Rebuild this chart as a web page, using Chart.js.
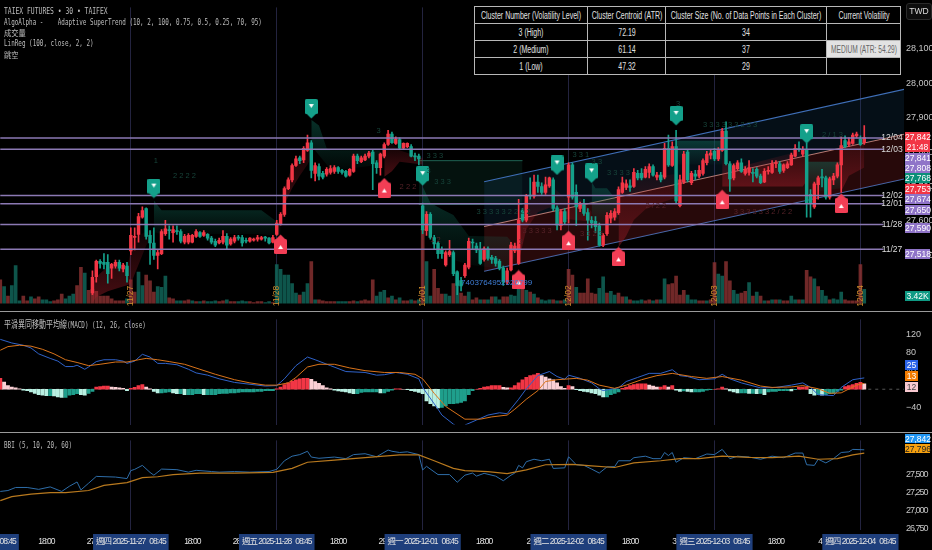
<!DOCTYPE html>
<html><head><meta charset="utf-8">
<script src="https://cdn.jsdelivr.net/npm/chart.js@4"></script>
<style>
html,body{margin:0;padding:0;background:#000;width:932px;height:550px;overflow:hidden}
canvas{position:absolute;left:0;display:block}
.t{position:absolute;white-space:pre;color:#bdbdbd;font:8.5px/11px "DejaVu Sans Mono","Noto Sans CJK TC",monospace;transform-origin:left center}
.cjk{font:8.5px/11px "Noto Sans CJK TC"}
.sep{position:absolute;left:0;width:932px;height:1px;background:#9a9a9a}
.tag{position:absolute;left:905px;width:25px;text-align:center;font:8.5px/10px "Liberation Sans";color:#fff}
#tbl{position:absolute;left:474px;top:6px;width:426px;height:68px;border-collapse:collapse;table-layout:fixed;background:#000}
#tbl td{position:relative;border:1px solid #b8b8b8;padding:0;height:16px}
#tbl span{position:absolute;left:50%;top:50%;transform:translate(-50%,-50%) scaleX(.7);white-space:nowrap;color:#e0e0e0;font:10px "Liberation Sans"}
#tbl td.hl{background:#e2e2e2}
#tbl td.hl span{color:#666;transform:translate(-50%,-50%) scaleX(.66)}
#twd{position:absolute;left:906px;top:3px;width:24px;height:15px;border:1px solid #2a2a2a;border-radius:3px;background:#0d0d0d;color:#ddd;font:8.5px/15px "Liberation Sans";text-align:center}
</style></head><body>
<canvas id="cPrice" style="top:0" width="932" height="311"></canvas>
<canvas id="cMacd" style="top:312px" width="932" height="120"></canvas>
<canvas id="cBbi" style="top:433px" width="932" height="117"></canvas>
<div class="sep" style="top:311px"></div>
<div class="sep" style="top:432px"></div>

<div class="t" style="left:4px;top:6px;transform:scaleX(.75)">TAIEX FUTURES • 30 • TAIFEX</div>
<div class="t" style="left:4px;top:17px;transform:scaleX(.7)">AlgoAlpha -    Adaptive SuperTrend (10, 2, 100, 0.75, 0.5, 0.25, 70, 95)</div>
<div class="t cjk" style="left:4px;top:27px;transform:scaleX(.85)">成交量</div>
<div class="t" style="left:4px;top:38px;transform:scaleX(.7)">LinReg (100, close, 2, 2)</div>
<div class="t cjk" style="left:4px;top:49px;transform:scaleX(.85)">跳空</div>
<div class="t" style="left:4px;top:318px;transform:scaleX(.7)"><span style="font-size:10px;font-family:'Noto Sans CJK TC'">平滑異同移動平均線</span>(MACD) (12, 26, close)</div>
<div class="t" style="left:4px;top:440px;transform:scaleX(.7)">BBI (5, 10, 20, 60)</div>

<table id="tbl"><colgroup><col style="width:113px"><col style="width:78px"><col style="width:161px"><col style="width:74px"></colgroup>
<tr><td><span>Cluster Number (Volatility Level)</span></td><td><span>Cluster Centroid (ATR)</span></td><td><span>Cluster Size (No. of Data Points in Each Cluster)</span></td><td><span>Current Volatility</span></td></tr>
<tr><td><span>3 (High)</span></td><td><span>72.19</span></td><td><span>34</span></td><td></td></tr>
<tr><td><span>2 (Medium)</span></td><td><span>61.14</span></td><td><span>37</span></td><td class="hl"><span>MEDIUM (ATR: 54.29)</span></td></tr>
<tr><td><span>1 (Low)</span></td><td><span>47.32</span></td><td><span>29</span></td><td></td></tr>
</table>
<div id="twd">TWD</div>
<div id="tags"></div>

<script>
// ---------- price pane data ----------
const firstCandle = 24;
const openPrices = [27391,27438,27483,27480,27480,27463,27469,27480,27461,27469,27513,27552,27561,27611,27636,27558,27536,27500,27505,27563,27575,27566,27572,27569,27538,27538,27538,27555,27566,27558,27561,27550,27541,27536,27538,27555,27533,27541,27552,27552,27544,27541,27544,27547,27547,27552,27550,27538,
27561,27591,27619,27694,27719,27761,27783,27777,27805,27827,27738,27758,27738,27736,27741,27744,27755,27747,27744,27733,27744,27788,27772,27777,27788,27800,27769,27755,27788,27822,27852,27825,27836,27811,27816,27816,27788,27788,
27644,27572,27619,27552,27536,27516,27472,27502,27508,27450,27427,27441,27466,27538,27527,27516,27488,27519,27494,27491,27483,27463,27422,27458,27513,27477,27630,27602,27675,27672,27713,27700,27683,27702,27719,27638,27586,27627,
27669,27763,27683,27636,27647,27624,27602,27599,27586,27530,27563,27608,27611,27624,27683,27697,27702,27700,27738,27738,27727,27741,27758,27727,27733,27727,27811,27761,27816,27644,27713,27800,27711,27736,27730,27738,27769,27791,
27802,27780,27805,27861,27766,27725,27752,27769,27738,27741,27741,27750,27730,27713,27744,27741,27766,27766,27747,27755,27763,27788,27811,27794,27808,27677,27641,27705,27727,27725,27669,27719,27730,27763,27833,27822,27825,27847,27838,27827];
const closePrices = [27436,27483,27477,27474,27447,27474,27480,27463,27472,27441,27558,27555,27613,27630,27555,27536,27500,27508,27569,27577,27572,27575,27569,27541,27555,27558,27558,27569,27555,27566,27550,27538,27530,27544,27555,27530,27547,27552,27550,27536,27541,27550,27547,27552,27552,27550,27536,27552,
27594,27619,27694,27719,27761,27780,27775,27811,27827,27747,27761,27730,27727,27750,27752,27755,27744,27741,27730,27750,27788,27775,27783,27788,27797,27766,27755,27794,27822,27852,27827,27838,27811,27825,27825,27788,27786,27780,
27574,27619,27552,27533,27505,27505,27508,27511,27447,27413,27411,27472,27541,27536,27516,27477,27519,27491,27488,27477,27463,27422,27455,27530,27527,27602,27602,27672,27672,27713,27700,27683,27705,27725,27636,27588,27627,27597,
27763,27669,27641,27650,27622,27602,27594,27583,27530,27558,27616,27622,27627,27691,27711,27708,27697,27741,27725,27725,27750,27758,27733,27733,27719,27811,27763,27816,27658,27719,27794,27719,27738,27730,27747,27775,27794,27797,
27780,27805,27861,27766,27722,27761,27769,27744,27750,27755,27738,27730,27711,27744,27747,27766,27769,27744,27763,27766,27791,27811,27808,27808,27652,27650,27708,27725,27725,27669,27722,27730,27763,27819,27816,27830,27849,27852,27822,27842];
const highPrices = [27455,27486,27488,27505,27502,27477,27486,27486,27477,27480,27580,27580,27622,27641,27638,27572,27580,27516,27575,27602,27586,27586,27586,27575,27561,27563,27561,27575,27569,27572,27563,27555,27547,27550,27572,27563,27552,27558,27558,27558,27550,27552,27550,27558,27555,27555,27552,27558,
27602,27624,27699,27725,27766,27788,27788,27816,27849,27833,27769,27766,27744,27755,27761,27761,27758,27750,27747,27752,27794,27794,27788,27794,27802,27805,27775,27797,27827,27863,27858,27844,27841,27827,27827,27822,27797,27794,
27652,27627,27624,27558,27541,27525,27513,27544,27513,27455,27436,27477,27550,27547,27536,27538,27525,27525,27500,27497,27488,27469,27463,27538,27536,27663,27636,27677,27725,27733,27733,27711,27727,27727,27725,27644,27633,27636,
27769,27769,27705,27655,27663,27636,27613,27613,27594,27563,27624,27630,27636,27699,27727,27719,27719,27752,27747,27752,27758,27766,27763,27741,27741,27825,27849,27830,27863,27733,27802,27805,27744,27747,27761,27780,27802,27808,
27811,27813,27869,27888,27772,27766,27775,27780,27758,27775,27752,27755,27736,27752,27758,27775,27775,27772,27766,27772,27797,27822,27830,27816,27825,27691,27713,27730,27750,27730,27727,27738,27769,27844,27847,27841,27855,27858,27847,27877];
const lowPrices = [27386,27422,27463,27461,27419,27433,27463,27455,27452,27422,27502,27516,27538,27608,27547,27474,27488,27461,27502,27558,27547,27538,27561,27536,27533,27533,27536,27552,27552,27555,27544,27533,27525,27533,27533,27519,27530,27536,27544,27527,27536,27538,27541,27541,27544,27541,27533,27536,
27558,27588,27613,27691,27713,27758,27766,27769,27802,27725,27716,27719,27722,27730,27736,27738,27738,27736,27727,27730,27741,27766,27769,27775,27783,27691,27738,27733,27783,27819,27825,27822,27808,27808,27813,27786,27775,27763,
27563,27558,27547,27519,27491,27491,27469,27497,27441,27386,27397,27436,27461,27519,27508,27474,27483,27486,27477,27469,27458,27413,27416,27455,27508,27474,27597,27597,27663,27666,27683,27677,27677,27697,27630,27574,27574,27591,
27594,27663,27586,27627,27616,27544,27580,27566,27527,27525,27558,27594,27602,27619,27680,27691,27686,27697,27719,27719,27725,27725,27730,27719,27713,27722,27758,27758,27650,27641,27708,27713,27705,27719,27725,27733,27763,27780,
27775,27775,27802,27763,27686,27719,27747,27741,27733,27733,27713,27725,27708,27711,27736,27738,27755,27738,27741,27752,27761,27786,27802,27788,27611,27611,27636,27663,27699,27663,27663,27705,27725,27683,27813,27816,27822,27841,27819,27822];
const volumes = [5.7,4.1,1.82,4.33,9.12,.68,1.82,.68,1.6,1.14,1.6,.91,.91,.46,.68,.91,2.28,1.14,1.82,2.28,4.33,8.66,7.3,3.19,3.42,2.96,1.82,1.82,1.82,1.14,.68,.68,.68,1.14,5.7,2.74,7.52,4.33,6.84,5.47,2.74,4.1,3.88,6.61,1.37,1.14,.68,.68,.68,.91,.68,.46,.46,.68,.46,.46,.68,.46,.68,.91,.46,.46,.46,.68,.46,.46,.23,.46,.46,.23,.46,.23,
9.35,8.21,6.84,6.84,4.79,2.51,2.05,2.74,4.79,10.03,.91,.91,.68,.46,.46,.46,.46,.46,.46,.46,.68,.46,.68,.91,.68,5.7,1.82,2.74,3.19,1.37,1.82,.91,1.37,.68,.68,.91,.68,.91,
17.78,10.03,1.82,8.21,3.65,2.28,2.28,1.82,4.79,7.75,2.51,1.82,2.74,.91,1.37,.91,.91,.91,1.6,1.6,.91,1.6,1.6,2.05,1.82,5.93,6.16,3.19,2.74,2.28,1.37,.91,.68,.91,.91,.68,.68,.91,
8.21,6.84,3.88,2.51,2.51,5.93,2.51,2.28,3.65,6.38,2.51,2.96,2.05,2.51,1.6,1.6,.91,.68,.68,.91,.68,.91,.68,.91,.91,5.93,4.56,4.79,6.61,2.05,3.19,2.05,.91,.91,.68,.68,.68,.91,
9.8,7.07,6.61,10.03,5.47,3.19,2.28,2.51,2.96,5.02,1.82,2.74,1.82,.68,.68,.91,.91,.91,.68,.68,1.82,.91,.91,.91,7.98,6.38,5.93,4.1,3.19,1.82,.91,1.14,.91,2.74,.91,.68,.68,.68,9.35,3.42];
const volumeRed = [1,0,1,0,0,0,1,1,0,1,1,0,0,0,1,1,1,0,0,0,1,1,0,1,1,1,1,1,1,1,1,1,1,0,1,1,0,0,1,1,1,0,0,0,1,1,0,0,1,1,0,1,0,1,0,0,0,1,1,0,1,1,0,0,0,1,1,1,1,0,0,1,
0,0,0,0,0,0,1,0,0,1,0,1,1,1,1,1,0,0,0,1,1,0,1,1,1,1,0,0,0,1,0,1,0,1,1,0,1,0,
1,0,0,1,1,1,0,0,1,0,1,1,0,1,1,0,1,0,1,0,0,1,1,0,0,0,1,0,1,0,1,0,0,0,1,0,1,0,
1,1,0,1,1,1,1,1,0,0,1,0,0,1,1,0,1,0,0,0,1,1,0,1,0,0,1,1,1,1,1,0,0,0,1,1,0,1,
1,0,0,1,1,0,0,1,1,0,1,0,1,0,1,0,1,0,1,1,0,0,1,0,1,1,0,1,0,0,1,0,0,0,1,1,1,1,1,0];
const upperChannel = [27714,27982];
const middleChannel = [27584,27852];
const lowerChannel = [27454,27722];
const channelX = [126,235.4];
const levelPrices = [27841,27808,27674,27650,27590,27518];
const levelNames = ['12/04','12/03','12/02','12/01','11/28','11/27'];
const levelX = [0,230];
const sellSignalX = [40,81,110,145,154,176,210];
const sellSignalY = [27694,27925,27730,27761,27738,27905,27852];
const buySignalX = [73,100,135,148,161,188,219];
const buySignalY = [27533,27697,27430,27544,27497,27663,27652];
const gapBoxX = [109,136];
const gapBoxTop = [27775,27775];
const gapBoxBottom = [27648,27648];

const redA = {x:[24,25,28,33,34,36,38,40], top:[27418,27437,27468,27460,27515,27556,27570,27570], bottom:[27363,27379,27396,27413,27418,27473,27529,27562]};
const greenA = {x:[40,42,68,71,73], top:[27659,27631,27631,27606,27590], bottom:[27567,27562,27562,27556,27556]};
const redB = {x:[73,74,76,78,80,81], top:[27598,27695,27758,27783,27819,27833], bottom:[27590,27648,27695,27731,27764,27786]};
const greenB = {x:[81,83,85,86,99], top:[27894,27877,27811,27805,27805], bottom:[27819,27791,27764,27744,27764]};
const redC = {x:[100,102,104,110], top:[27819,27825,27805,27783], bottom:[27728,27744,27772,27764]};
const greenC = {x:[110,112,115,118,122,132,134], top:[27700,27653,27634,27617,27556,27554,27529], bottom:[27625,27570,27529,27487,27473,27460,27495]};
const redD = {x:[135,137,140,143,147,150,154], top:[27606,27667,27708,27708,27667,27681,27626], bottom:[27482,27576,27625,27639,27606,27603,27598]};
const greenD = {x:[154,155,158,161], top:[27714,27695,27695,27653], bottom:[27626,27584,27598,27606]};
const redE = {x:[161,163,165,168,172,176], top:[27695,27708,27736,27744,27731,27736], bottom:[27523,27556,27603,27634,27653,27667]};
const greenE = {x:[176,188], top:[27833,27833], bottom:[27764,27764]};
const redF = {x:[188,190,209,210], top:[27805,27750,27805,27764], bottom:[27700,27700,27700,27717]};
const greenF = {x:[210,219], top:[27772,27772], bottom:[27681,27695]};
const redG = {x:[219,221,225], top:[27819,27827,27833], bottom:[27686,27731,27755]};
const redBands = [redA,redB,redC,redD,redE,redF,redG];
const greenBands = [greenA,greenB,greenC,greenD,greenE,greenF];

const dimCounts = [
 ['1',40,27775,'g'],['2 2 2 2',45,27730,'g'],['3',98,27860,'g'],['3 3 3',111,27790,'g'],['3',111,27745,'g'],['3 3 3',113,27712,'g'],
 ['3 3 3 3 3 2 2 2 2',124,27625,'g'],['3 3 1',149,27793,'g'],['3 3',154,27770,'g'],['3 3 3 3',158,27740,'g'],['3',176,27940,'g'],
 ['3 3 3 3 3 3 2 3 3',183,27880,'g'],['2 / 1 3',214,27850,'g'],['3 3 3 3 3',136,27570,'r'],['3 3 2 3',151,27562,'r'],
 ['2 / 2 2',168,27645,'r'],['3 3 3 3 3 3 2 / 2 2',191,27625,'r'],['1 2',112,27545,'r'],['2 2 2',104,27700,'r'],['3',135,27540,'r']];
const rotatedDates = ['11/27','11/28','12/01','12/02','12/03','12/04'];
const sessionStarts = [34,72,110,148,186,224];
const orderNoteText = '7403764952520799';
const orderNoteX = 120;
const orderNoteY = 27420;

// ---------- MACD pane data ----------
const macdHist = [24,16,8,5,3,1,-2,-3,-6,-9,-12,-13,-14,-14,-15,-17,-18,-18,-13,-12,-10,-12,-13,-9,-5,5,6,7,7,5,4,3,2,-3,2,4,8,10,5,1,-5,-8,-8,-7,-6,-8,-10,-10,-12,-12,-12,-10,-10,-12,-12,-12,-12,-10,-9,-9,-8,-8,-7,-6,-6,-6,-6,-5,-5,-3,-3,-3,
1,5,10,14,18,21,23,24,24,22,17,13,8,3,1,-2,-4,-5,-6,-8,-10,-10,-7,-6,-6,-6,-6,-8,-8,-5,-2,1,1,0,-1,-3,-5,-7,
-10,-26,-32,-37,-41,-40,-37,-32,-32,-31,-29,-26,-12,-3,0,2,5,6,8,8,8,4,3,3,8,14,21,26,30,32,35,30,27,23,21,14,6,2,
8,6,-1,-3,-5,-6,-8,-10,-13,-17,-17,-12,-9,-6,2,5,8,10,12,12,12,9,7,5,5,8,5,8,-2,-5,-4,-5,-6,-6,-6,-5,-2,-1,
0,1,5,1,-4,-6,-8,-8,-8,-9,-9,-10,-9,-12,-6,-5,-5,-3,-3,-3,-4,-1,4,5,5,-10,-13,-12,-13,-12,-10,-9,-5,-2,6,8,10,13,15,12];
const macdX = [0,3,6,8,10,13,15,17,19,20,22,23,25,27,30,32,33,35,37,39,41,43,46,49,51,54,57,61,64,69,72,74,77,80,82,86,90,95,98,100,103,106,109,110,114,115,118,120,121,124,127,130,132,133,135,137,140,143,145,147,148,151,154,156,157,161,163,166,169,172,175,177,179,182,186,188,190,193,198,202,206,209,211,213,217,219,222,225];
const macdLine = [110,102,97,91,78,68,62,50,50,53,44,49,61,65,65,62,57,62,77,71,57,57,54,44,36,31,23,15,12,7,8,23,52,71,65,52,39,37,31,32,37,33,23,4,-44,-57,-77,-88,-79,-68,-57,-52,-54,-43,-22,1,30,39,28,22,31,24,14,1,-3,3,17,26,35,35,43,30,28,21,23,33,23,14,3,4,9,14,4,-12,-14,4,21,25];
const signalX = [0,2,5,8,11,14,17,20,23,26,30,33,36,38,41,44,48,52,56,61,65,69,72,75,77,80,83,87,91,95,100,104,108,110,113,116,121,125,128,132,134,137,140,142,145,150,153,156,160,163,167,171,175,180,184,188,193,198,201,206,209,213,216,219,223,225];
const signalLine = [86,94,97,95,88,78,65,59,52,55,60,60,65,68,65,61,55,44,33,21,14,9,9,14,26,49,55,55,47,41,37,37,33,23,-9,-38,-66,-66,-61,-57,-44,-22,-3,17,21,24,20,9,2,9,21,30,35,28,24,28,20,7,4,5,8,1,-9,-8,9,13];
const zeroLineX = [0,235.4];
const zeroLine = [0,0];

// ---------- BBI pane data ----------
const bbiX = [0,2,4,7,10,13,16,18,20,21,23,25,30,33,34,35,37,39,40,42,46,49,51,55,57,61,65,70,72,74,76,78,80,81,83,87,90,92,95,98,101,102,104,106,109,110,111,114,117,119,121,123,124,126,129,131,133,134,135,136,137,139,141,143,144,147,148,150,152,154,156,158,160,161,164,165,168,170,172,173,174,175,176,178,181,184,186,188,190,192,195,198,201,204,207,209,210,212,213,215,217,219,221,222,225];
const bbiLine = [27267,27280,27322,27322,27296,27330,27267,27339,27398,27288,27381,27475,27466,27445,27555,27572,27627,27530,27492,27576,27568,27534,27559,27542,27534,27542,27534,27542,27572,27691,27754,27776,27822,27742,27725,27742,27720,27776,27788,27746,27839,27822,27805,27814,27776,27564,27614,27500,27500,27394,27492,27521,27479,27517,27479,27415,27492,27521,27627,27593,27678,27712,27691,27712,27585,27593,27746,27636,27627,27576,27521,27606,27610,27691,27691,27733,27754,27720,27720,27805,27763,27805,27670,27733,27720,27784,27776,27848,27720,27754,27742,27712,27754,27733,27797,27797,27636,27627,27712,27661,27720,27805,27814,27848,27842];
const bbiSlowX = [0,3,8,13,17,23,27,33,37,41,45,52,61,71,76,80,87,95,104,109,113,118,121,127,132,137,142,149,154,160,165,172,177,182,188,195,201,208,213,218,222,225];
const bbiSlow = [27140,27195,27229,27250,27250,27280,27352,27390,27458,27470,27500,27521,27521,27530,27585,27670,27699,27733,27771,27771,27691,27585,27555,27542,27513,27564,27636,27640,27619,27598,27661,27691,27720,27720,27754,27737,27733,27754,27712,27720,27771,27796];

// ---------- axes ----------
const priceTicks = [27500,27600,27700,27800,27900,28000,28100];
const macdTicks = [-40,0,40,80,120];
const bbiTicks = [26750,27000,27250,27500];
const timeTicks = [-5,12,34,50,72,88,110,126,148,164,186,202,224];
const timeLabels = ['週三 2025-11-26   08:45','18:00','週四 2025-11-27   08:45','18:00','週五 2025-11-28   08:45','18:00','週一 2025-12-01   08:45','18:00','週二 2025-12-02   08:45','18:00','週三 2025-12-03   08:45','18:00','週四 2025-12-04   08:45'];
const midnightTicks = [23.5,61.5,99.5,137.5,175.5,213.5];
const midnightLabels = ['27','28','29','2','3','4'];

const priceTags = [
 ['27,842','#f23645',132],['21:48','#f23645',142],['27,841','#8f74c8',153],['27,808','#8f74c8',163],['27,768','#0a8f78',173],['27,753','#f23645',184],['27,674','#8f74c8',194],['27,650','#8f74c8',205],['27,590','#8f74c8',223],['27,518','#8f74c8',249],['3.42K','#0f9a84',291]];
const macdTags = [['25','#2a62e8',360],['13','#f57c00',371],['12','#f8c9d0',382]];
const bbiTags = [['27,842','#2196f3',434],['27,796','#f5a00f',444]];

// ---------- colours ----------
const RED='#f23645', GREEN='#14a08a', AXIS='#c6c6c6', DAYLINE='#23233f';
const X_MIN=-0.07, X_MAX=235.35;
Chart.defaults.font.family='"Liberation Sans","Noto Sans CJK TC",sans-serif';
Chart.defaults.font.size=9;
Chart.defaults.color=AXIS;

const pts=(xs,ys)=>xs.map((x,k)=>({x,y:ys[k]}));
const line=(data,color,width,extra)=>Object.assign({type:'line',data,borderColor:color,borderWidth:width,pointRadius:0,tension:0,fill:false,order:30},extra||{});
const baseOpts=(yScales,xExtra)=>({
  responsive:false,animation:false,devicePixelRatio:1,
  layout:{padding:0,autoPadding:false},
  plugins:{legend:{display:false},tooltip:{enabled:false},title:{display:false}},
  events:[],
  scales:Object.assign({
    x:Object.assign({type:'linear',min:X_MIN,max:X_MAX,offset:false,display:true,
      grid:{offset:false,drawTicks:false,color:DAYLINE,lineWidth:1},border:{display:false},
      ticks:{display:false},afterBuildTicks:s=>{s.ticks=sessionStarts.map(v=>({value:v}));},
      afterFit:s=>{s.height=0;}},xExtra||{})
  },yScales)
});
const yAxis=(min,max,ticks,pos)=>({type:'linear',position:'right',min,max,
  grid:{display:false,drawTicks:false},border:{display:false},
  ticks:{color:AXIS,padding:2,autoSkip:false,callback:v=>Number(v).toLocaleString('en-US').replace('-','\u2212')},
  afterBuildTicks:s=>{s.ticks=ticks.map(v=>({value:v}));},
  afterFit:s=>{s.width=28;}});

// marker images
function marker(color,down){
  const c=document.createElement('canvas');c.width=13;c.height=20;const g=c.getContext('2d');
  g.fillStyle=color;g.beginPath();
  if(down){g.roundRect(0,0,13,15,1.5);g.fill();g.beginPath();g.moveTo(2,15);g.lineTo(6.5,19.5);g.lineTo(11,15);g.fill();
    g.fillStyle='#fff';g.beginPath();g.moveTo(4,5);g.lineTo(9,5);g.lineTo(6.5,9);g.fill();}
  else{g.roundRect(0,5,13,15,1.5);g.fill();g.beginPath();g.moveTo(2,5);g.lineTo(6.5,.5);g.lineTo(11,5);g.fill();
    g.fillStyle='#fff';g.beginPath();g.moveTo(4,15);g.lineTo(9,15);g.lineTo(6.5,11);g.fill();}
  return c;
}
function bandFill(band,isRed){
  return ctx=>{
    const s=ctx.chart.scales.price; if(!s) return 'transparent';
    const y0=s.getPixelForValue(Math.max(...band.top)), y1=s.getPixelForValue(Math.min(...band.bottom));
    if(!isFinite(y0)||!isFinite(y1)) return 'transparent';
    const g=ctx.chart.ctx.createLinearGradient(0,y0,0,y1);
    if(isRed){g.addColorStop(0,'rgba(165,30,42,.08)');g.addColorStop(1,'rgba(165,30,42,.45)');}
    else{g.addColorStop(0,'rgba(18,115,96,.42)');g.addColorStop(1,'rgba(18,115,96,.05)');}
    return g;
  };
}
const bandSets=[];
function addBand(b,isRed){
  bandSets.push(line(pts(b.x,b.top),'transparent',0,{fill:'+1',backgroundColor:bandFill(b,isRed),order:60}));
  bandSets.push(line(pts(b.x,b.bottom),'transparent',0,{order:60}));
}
redBands.forEach(b=>addBand(b,true));
greenBands.forEach(b=>addBand(b,false));

const candleX=k=>k+firstCandle;
const candleColors=openPrices.map((o,k)=>closePrices[k]>=o?RED:GREEN);
const priceDatasets=[
  {type:'bar',yAxisID:'vol',data:pts(volumes.map((_,i)=>i),volumes),barThickness:3,grouped:false,
    backgroundColor:volumeRed.map(r=>r?'rgba(140,50,50,.8)':'rgba(16,100,88,.85)'),order:90},
  line(pts(gapBoxX,gapBoxTop),'#1f6353',1,{fill:'+1',backgroundColor:'rgba(18,90,72,.2)',order:85}),
  line(pts(gapBoxX,gapBoxBottom),'#1f6353',1,{order:85}),
  line(pts(channelX,upperChannel),'#3f6fb8',1.1,{fill:'+1',backgroundColor:'rgba(28,84,128,.18)',order:70}),
  line(pts(channelX,middleChannel),'#c47f74',1.1,{fill:'+1',backgroundColor:'rgba(150,36,40,.26)',order:70}),
  line(pts(channelX,lowerChannel),'#3f6fb8',1.1,{order:70}),
  ...bandSets,
  {type:'bar',yAxisID:'price',data:openPrices.map((_,k)=>({x:candleX(k),y:[lowPrices[k],highPrices[k]]})),barThickness:1,grouped:false,backgroundColor:candleColors,order:12},
  {type:'bar',yAxisID:'price',data:openPrices.map((o,k)=>({x:candleX(k),y:[o,closePrices[k]]})),barThickness:2.8,minBarLength:1,grouped:false,backgroundColor:candleColors,order:11},
  ...levelPrices.map(p=>line(pts(levelX,[p,p]),'#8b79b4',1.5,{order:5})),
  line(pts(sellSignalX,sellSignalY),'transparent',0,{showLine:false,pointRadius:8,pointStyle:marker('#14a08a',true),order:1}),
  line(pts(buySignalX,buySignalY),'transparent',0,{showLine:false,pointRadius:8,pointStyle:marker('#f23e55',false),order:1})
];
priceDatasets.forEach(d=>{if(!d.yAxisID)d.yAxisID='price';});

const priceDecor={id:'priceDecor',afterDatasetsDraw(chart){
  const c=chart.ctx,x=chart.scales.x,y=chart.scales.price;
  c.save();
  // dim trend counters
  c.font='7.5px "Liberation Sans"';c.textBaseline='middle';c.textAlign='left';
  dimCounts.forEach(d=>{c.fillStyle=d[3]==='g'?'#17443a':'#552228';c.fillText(d[0],x.getPixelForValue(d[1]),y.getPixelForValue(d[2]));});
  // session dates
  c.font='8.5px "Liberation Sans"';c.fillStyle='#d08d2c';c.textAlign='center';
  rotatedDates.forEach((t,k)=>{c.save();c.translate(x.getPixelForValue(sessionStarts[k]),296);c.rotate(-Math.PI/2);c.fillText(t,0,0);c.restore();});
  c.textAlign='left';c.fillStyle='#3f7fd8';c.font='8px "Liberation Sans"';
  c.fillText(orderNoteText,x.getPixelForValue(orderNoteX),y.getPixelForValue(orderNoteY));
  // level names
  c.fillStyle='#dcdcdc';c.font='8.5px "Liberation Sans"';c.textAlign='center';
  levelNames.forEach((t,k)=>c.fillText(t,892,y.getPixelForValue(levelPrices[k])));
  c.restore();
}};

const priceChart=new Chart(document.getElementById('cPrice'),{type:'line',data:{datasets:priceDatasets},plugins:[priceDecor],
 options:baseOpts({
   price:yAxis(27360,28220,priceTicks),
   vol:{type:'linear',display:false,min:0,max:70.9}
 })});
priceChart.update();

const histColors=macdHist.map((v,i)=>{const p=i?macdHist[i-1]:v;
  return v>=0?(v>=p?'#f23645':'#fbd0d5'):(v<p?'#b9f0e2':'#1f9f8c');});
new Chart(document.getElementById('cMacd'),{type:'line',
 data:{datasets:[
  line(pts(zeroLineX,zeroLine),'#555',1,{borderDash:[3,4],yAxisID:'m',order:50}),
  {type:'bar',yAxisID:'m',data:pts(macdHist.map((_,i)=>i),macdHist),barThickness:3.2,grouped:false,backgroundColor:histColors,order:20},
  line(pts(macdX,macdLine),'#2f62c8',1,{yAxisID:'m',order:10}),
  line(pts(signalX,signalLine),'#d9731a',1,{yAxisID:'m',order:9})
 ]},
 options:baseOpts({m:yAxis(-78,154,macdTicks)})});

const shrinkText={id:'shrinkText',beforeUpdate(chart){chart.ctx.letterSpacing='-1px';}};
const tickLabel=v=>{const a=timeTicks.indexOf(v);if(a>=0)return timeLabels[a];const b=midnightTicks.indexOf(v);return b>=0?midnightLabels[b]:'';};
new Chart(document.getElementById('cBbi'),{type:'line',plugins:[shrinkText],
 data:{datasets:[
  line(pts(bbiX,bbiLine),'#2e6da8',1,{yAxisID:'b',order:10}),
  line(pts(bbiSlowX,bbiSlow),'#b8791e',1.2,{yAxisID:'b',order:9})
 ]},
 options:baseOpts({b:yAxis(26735,27972,bbiTicks)},{
  grid:{offset:false,drawTicks:false,lineWidth:1,color:c=>sessionStarts.includes(c.tick&&c.tick.value)?DAYLINE:'transparent'},
  ticks:{display:true,autoSkip:false,maxRotation:0,minRotation:0,padding:7,color:'#e2e2e2',font:{size:8.5},
    callback:v=>tickLabel(v),
    showLabelBackdrop:c=>timeLabels[timeTicks.indexOf(c.tick.value)]!==undefined&&timeLabels[timeTicks.indexOf(c.tick.value)].length>5,
    backdropColor:'#1f3f7c',backdropPadding:{x:3,y:3}},
  afterBuildTicks:s=>{s.ticks=timeTicks.concat(midnightTicks).sort((a,b)=>a-b).map(v=>({value:v}));},
  afterFit:s=>{s.height=20;s.paddingLeft=0;s.paddingRight=0;if(s._margins){s._margins.left=0;s._margins.right=0;}}
 })});

const tagHost=document.getElementById('tags');
[[priceTags,10],[macdTags,10],[bbiTags,9]].forEach(([list,h])=>list.forEach(t=>{
  const d=document.createElement('div');d.className='tag';d.textContent=t[0];
  d.style.top=t[2]+'px';d.style.height=h+'px';d.style.background=t[1];
  if(list===macdTags){d.style.width='13px';d.style.color=t[1]==='#f8c9d0'?'#444':'#fff';}
  if(t[0]==='27,796')d.style.color='#222';
  tagHost.appendChild(d);
}));
</script>
</body></html>
